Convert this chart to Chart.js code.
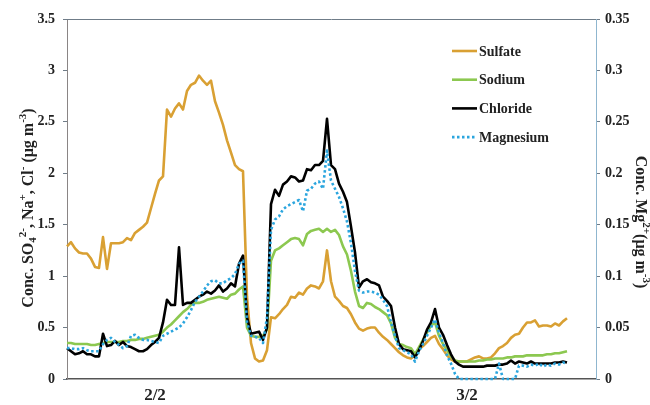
<!DOCTYPE html>
<html>
<head>
<meta charset="utf-8">
<script src="https://cdn.jsdelivr.net/npm/chart.js@4.4.1/dist/chart.umd.min.js"></script>
<style>
  body { margin: 0; background: #fff; }
  canvas { display: block; }
</style>
</head>
<body>
<canvas id="chart" width="650" height="405"></canvas>
<script>
// sample values, one every step along the time axis
const sulfate = [
  1.29,1.33,1.27,1.23,1.22,1.22,1.17,1.09,1.08,1.38,
  1.07,1.32,1.32,1.32,1.33,1.37,1.35,1.42,1.45,1.48,
  1.52,1.66,1.80,1.93,1.97,2.62,2.55,2.63,2.68,2.62,
  2.80,2.86,2.88,2.95,2.90,2.86,2.90,2.70,2.59,2.47,
  2.32,2.20,2.08,2.04,2.02,0.80,0.35,0.20,0.17,0.18,
  0.28,0.60,0.59,0.63,0.68,0.72,0.80,0.79,0.84,0.82,
  0.88,0.91,0.90,0.88,0.95,1.25,0.95,0.80,0.76,0.71,
  0.69,0.63,0.55,0.49,0.47,0.49,0.50,0.50,0.45,0.41,
  0.38,0.34,0.30,0.26,0.23,0.21,0.20,0.23,0.29,0.32,
  0.36,0.40,0.42,0.34,0.29,0.23,0.19,0.17,0.17,0.17,
  0.17,0.19,0.21,0.22,0.20,0.20,0.21,0.25,0.30,0.32,
  0.35,0.40,0.43,0.44,0.50,0.55,0.55,0.57,0.51,0.52,
  0.52,0.51,0.54,0.52,0.56,0.59
];
const sodium = [
  0.35,0.35,0.34,0.34,0.34,0.34,0.33,0.33,0.34,0.35,
  0.36,0.36,0.36,0.36,0.37,0.37,0.38,0.38,0.39,0.39,
  0.40,0.41,0.42,0.43,0.46,0.50,0.53,0.57,0.61,0.65,
  0.68,0.72,0.74,0.74,0.75,0.77,0.78,0.79,0.80,0.79,
  0.78,0.82,0.83,0.87,0.90,0.50,0.42,0.41,0.41,0.42,
  0.48,1.15,1.25,1.27,1.30,1.33,1.36,1.37,1.36,1.30,
  1.41,1.44,1.45,1.46,1.43,1.46,1.43,1.45,1.40,1.29,
  1.21,1.05,0.85,0.71,0.69,0.74,0.73,0.70,0.68,0.65,
  0.62,0.54,0.40,0.34,0.33,0.31,0.30,0.24,0.31,0.38,
  0.45,0.52,0.55,0.42,0.34,0.28,0.22,0.18,0.17,0.17,
  0.17,0.17,0.17,0.18,0.18,0.19,0.19,0.20,0.20,0.20,
  0.21,0.21,0.22,0.22,0.22,0.23,0.23,0.23,0.23,0.23,
  0.24,0.24,0.25,0.25,0.26,0.27
];
const chloride = [
  0.30,0.27,0.24,0.25,0.27,0.24,0.24,0.22,0.22,0.44,
  0.32,0.33,0.37,0.33,0.36,0.32,0.31,0.29,0.27,0.27,
  0.29,0.33,0.36,0.40,0.55,0.77,0.72,0.72,1.28,0.72,
  0.74,0.74,0.77,0.80,0.82,0.85,0.83,0.86,0.91,0.85,
  0.88,0.93,0.90,1.12,1.20,0.60,0.44,0.45,0.46,0.38,
  0.50,1.70,1.84,1.78,1.89,1.92,1.97,1.96,1.92,1.93,
  2.04,2.03,2.08,2.08,2.12,2.53,2.08,2.04,1.90,1.82,
  1.72,1.48,1.23,0.89,0.95,0.97,0.94,0.93,0.91,0.80,
  0.76,0.71,0.50,0.34,0.29,0.28,0.27,0.21,0.28,0.37,
  0.48,0.55,0.68,0.50,0.43,0.33,0.24,0.17,0.14,0.12,
  0.12,0.12,0.12,0.12,0.12,0.13,0.13,0.13,0.14,0.14,
  0.15,0.18,0.15,0.17,0.16,0.15,0.17,0.15,0.15,0.15,
  0.15,0.15,0.16,0.16,0.17,0.16
];
// right axis
const magnesium = [
  0.030,0.030,0.029,0.029,0.030,0.028,0.027,0.027,0.027,0.034,
  0.038,0.040,0.036,0.033,0.030,0.032,0.042,0.043,0.040,0.038,
  0.038,0.037,0.036,0.035,0.042,0.044,0.046,0.048,0.050,0.054,
  0.060,0.067,0.075,0.080,0.085,0.091,0.095,0.096,0.093,0.093,
  0.096,0.098,0.102,0.112,0.115,0.055,0.042,0.041,0.040,0.035,
  0.060,0.145,0.155,0.158,0.165,0.168,0.170,0.172,0.174,0.163,
  0.183,0.185,0.190,0.192,0.185,0.222,0.193,0.185,0.177,0.166,
  0.153,0.132,0.105,0.086,0.084,0.085,0.085,0.084,0.082,0.077,
  0.071,0.055,0.042,0.030,0.028,0.026,0.024,0.017,0.027,0.034,
  0.042,0.050,0.058,0.045,0.035,0.023,0.015,0.005,0,0,
  0,0,0,0,0,0,0,0,0.015,0,
  0,0,0,0.013,0.013,0.012,0.014,0.013,0.015,0.012,
  0.014,0.013,0.015,0.014,0.016,0.015
];

const xTickLabels = ['2/2', '3/2'];
const xTickPos = [22, 100];
const xMax = 132.25;

const serif = '"Liberation Serif", "Times New Roman", serif';

const toPts = arr => arr.map((v, i) => ({ x: i, y: v }));
const plain = v => String(+v.toFixed(2));

// draw text with super/subscripts, centred on (x, y), rotated
function richText(ctx, segs, x, y, angle, size) {
  ctx.save();
  ctx.translate(x, y);
  ctx.rotate(angle);
  ctx.textBaseline = 'alphabetic';
  ctx.textAlign = 'left';
  ctx.fillStyle = '#222';
  const small = Math.round(size * 0.66);
  let total = 0;
  segs.forEach(s => {
    ctx.font = 'bold ' + (s[1] ? small : size) + 'px ' + serif;
    total += ctx.measureText(s[0]).width;
  });
  let cx = -total / 2;
  segs.forEach(s => {
    ctx.font = 'bold ' + (s[1] ? small : size) + 'px ' + serif;
    let dy = size * 0.35;
    if (s[1] === 'sup') dy -= size * 0.42;
    if (s[1] === 'sub') dy += size * 0.2;
    ctx.fillText(s[0], cx, dy);
    cx += ctx.measureText(s[0]).width;
  });
  ctx.restore();
}

const extras = {
  id: 'extras',
  afterDraw(chart) {
    const ctx = chart.ctx;
    const a = chart.chartArea;
    // top border
    ctx.save();
    ctx.strokeStyle = '#6f7c88';
    ctx.lineWidth = 1;
    ctx.beginPath();
    ctx.moveTo(a.left, a.top + 0.5);
    ctx.lineTo(a.right, a.top + 0.5);
    ctx.stroke();
    ctx.restore();

    richText(ctx, [['Conc. SO'], ['4', 'sub'], ['2-', 'sup'], [', Na'], ['+', 'sup'],
      [', Cl'], ['-', 'sup'], [' (\u03bcg m'], ['-3', 'sup'], [')']],
      27, 208, -Math.PI / 2, 16);
    richText(ctx, [['Conc. Mg'], ['2+', 'sup'], ['(\u03bcg m'], ['-3', 'sup'], [')']],
      642, 222, Math.PI / 2, 16);

    // legend
    ctx.save();
    chart.data.datasets.forEach((ds, i) => {
      const y = 51 + i * 28.7;
      ctx.strokeStyle = ds.borderColor;
      ctx.lineWidth = ds.borderWidth;
      ctx.setLineDash(ds.borderDash || []);
      ctx.beginPath();
      ctx.moveTo(452, y);
      ctx.lineTo(477, y);
      ctx.stroke();
      ctx.setLineDash([]);
      ctx.font = 'bold 14px ' + serif;
      ctx.fillStyle = '#222';
      ctx.textBaseline = 'middle';
      ctx.fillText(ds.label, 479, y + 1);
    });
    ctx.restore();
  }
};

const tickFont = { family: serif, size: 14, weight: 'bold' };

new Chart(document.getElementById('chart'), {
  type: 'line',
  data: {
    datasets: [
      { label: 'Sulfate', data: toPts(sulfate), borderColor: '#d9a033', borderWidth: 2.6, yAxisID: 'y', order: 4 },
      { label: 'Sodium', data: toPts(sodium), borderColor: '#8cc850', borderWidth: 2.6, yAxisID: 'y', order: 3 },
      { label: 'Chloride', data: toPts(chloride), borderColor: '#000000', borderWidth: 2.6, yAxisID: 'y', order: 2 },
      { label: 'Magnesium', data: toPts(magnesium), borderColor: '#2aa5de', borderWidth: 2.6, borderDash: [2.5, 2.5], yAxisID: 'y2', order: 1 }
    ]
  },
  options: {
    responsive: false,
    animation: false,
    events: [],
    layout: { padding: { top: 19, left: 0, right: 0, bottom: 0 } },
    elements: { point: { radius: 0 }, line: { tension: 0, borderJoinStyle: 'round' } },
    datasets: { line: { clip: 4 } },
    plugins: { legend: { display: false }, tooltip: { enabled: false } },
    scales: {
      x: {
        type: 'linear', min: 0, max: xMax,
        grid: { display: false },
        border: { color: '#555', width: 1.5 },
        ticks: {
          font: { family: serif, size: 17, weight: 'bold' }, color: '#222', padding: -2,
          maxRotation: 0, autoSkip: false,
          callback: v => xTickLabels[xTickPos.indexOf(v)]
        },
        afterBuildTicks: s => { s.ticks = xTickPos.map(v => ({ value: v })); },
        afterFit: s => { s.height = 26; }
      },
      y: {
        position: 'left', min: 0, max: 3.5,
        grid: { drawOnChartArea: false, tickLength: 4, color: '#6f7c88' },
        border: { color: '#8a8585', width: 1 },
        ticks: { stepSize: 0.5, font: tickFont, color: '#222', padding: 8, callback: plain },
        afterFit: s => { s.width = 67; }
      },
      y2: {
        position: 'right', min: 0, max: 0.35,
        grid: { drawOnChartArea: false, tickLength: 4, color: '#6f7c88' },
        border: { color: '#8fb6cf', width: 1 },
        ticks: { stepSize: 0.05, font: tickFont, color: '#222', padding: 5, callback: plain },
        afterFit: s => { s.width = 54; }
      }
    }
  },
  plugins: [extras]
});
</script>
</body>
</html>
